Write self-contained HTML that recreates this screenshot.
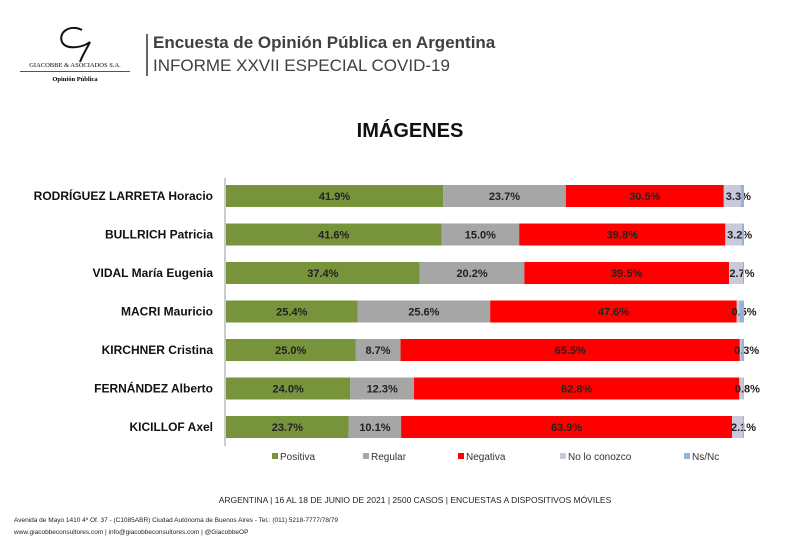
<!DOCTYPE html>
<html><head><meta charset="utf-8"><style>
body{margin:0;width:800px;height:554px;background:#fff;font-family:"Liberation Sans",sans-serif;overflow:hidden;position:relative}
.abs{position:absolute}
</style></head><body>
<div class="abs" style="left:20px;top:22px;width:110px;height:70px">
<svg width="110" height="40"><path d="M62 8 C50 2 38 10 42 20 C46 28 62 26 70 20 C66 28 62 34 60 40" stroke="#111" stroke-width="2" fill="none"/></svg>
<div style="position:absolute;top:40px;left:0;width:110px;font-family:'Liberation Serif',serif;font-size:6.5px;white-space:nowrap;text-align:center;border-bottom:1px solid #555;padding-bottom:2px">GIACOBBE &amp; ASOCIADOS S.A.</div>
<div style="position:absolute;top:54px;left:0;width:110px;font-family:'Liberation Serif',serif;font-size:6.5px;font-weight:bold;text-align:center">Opinión Pública</div>
</div>
<div class="abs" style="left:146px;top:34px;width:2px;height:42px;background:#666"></div>
<div class="abs" style="left:153px;top:33px;font-size:17px;font-weight:bold;color:#404040">Encuesta de Opinión Pública en Argentina</div>
<div class="abs" style="left:153px;top:56px;font-size:17px;color:#404040">INFORME XXVII ESPECIAL COVID-19</div>
<div class="abs" style="left:0;width:800px;top:120px;text-align:center;font-size:20px;font-weight:bold;color:#111;padding-left:20px;box-sizing:border-box">IMÁGENES</div>
<svg class="abs" style="left:0;top:0" width="800" height="554" id="chart"></svg>
<div class="abs" style="left:0;width:800px;top:495px;text-align:center;font-size:8.5px;color:#222;padding-left:30px;box-sizing:border-box">ARGENTINA | 16 AL 18 DE JUNIO DE 2021 | 2500 CASOS | ENCUESTAS A DISPOSITIVOS MÓVILES</div>
<div class="abs" style="left:14px;top:515px;font-size:6.5px;color:#222;line-height:12px">Avenida de Mayo 1410 4º Of. 37 - (C1085ABR) Ciudad Autónoma de Buenos Aires - Tel.: (011) 5218-7777/78/79<br>www.giacobbeconsultores.com | info@giacobbeconsultores.com | @GiacobbeOP</div>
<script>
const categories=["RODRÍGUEZ LARRETA Horacio","BULLRICH Patricia","VIDAL María Eugenia","MACRI Mauricio","KIRCHNER Cristina","FERNÁNDEZ Alberto","KICILLOF Axel"];
const seriesNames=["Positiva","Regular","Negativa","No lo conozco","Ns/Nc"];
const positiva=[41.9,41.6,37.4,25.4,25.0,24.0,23.7];
const regular=[23.7,15.0,20.2,25.6,8.7,12.3,10.1];
const negativa=[30.5,39.8,39.5,47.6,65.5,62.8,63.9];
const noConozco=[3.3,3.2,2.7,0.5,0.3,0.8,2.1];
const nsnc=[0.6,0.4,0.2,0.9,0.5,0.1,0.2];
const colors=["#77933c","#a6a6a6","#ff0000","#c9c9dc","#95b3d7"];
const NS="http://www.w3.org/2000/svg";
const svg=document.getElementById('chart');
const x0=226,pxPer=5.18,yTop=185,step=38.5,bh=22;
const xs=v=>v*pxPer;
const yb=i=>yTop+i*step;
function mk(t,a){const e=document.createElementNS(NS,t);for(const k in a)e.setAttribute(k,a[k]);svg.appendChild(e);return e;}
const ax=mk('line',{x1:225,x2:225,y1:178,y2:446,stroke:'#999','stroke-width':1});


const series=[positiva,regular,negativa,noConozco,nsnc];
categories.forEach((c,i)=>{
  const y=yb(i);
  const lab=mk('text',{x:213,y:y+bh/2+4,'text-anchor':'end','font-size':12,'font-weight':'bold',fill:'#111'});
  lab.textContent=c;
  
  
  let acc=0;
  series.forEach((s,j)=>{
    const w=xs(s[i]);
    const r=mk('rect',{x:x0+xs(acc),y:y,width:w,height:bh,fill:colors[j]});
    
    
    if(j<4){
      const t=mk('text',{x:x0+xs(acc)+w/2+(j==3?6:0),y:y+bh/2+4,'text-anchor':'middle','font-size':11,'font-weight':'bold',fill:'#222'});
      t.textContent=s[i].toFixed(1)+'%';
      
      
    }
    acc+=s[i];
  });
});
const lx=[272,363,458,560,684];
seriesNames.forEach((n,j)=>{
  const r=mk('rect',{x:lx[j],y:453,width:6,height:6,fill:colors[j]});
  
  
  const t=mk('text',{x:lx[j]+8,y:460,'font-size':10,fill:'#333'});
  t.textContent=n;
  
  
});
</script>
</body></html>
